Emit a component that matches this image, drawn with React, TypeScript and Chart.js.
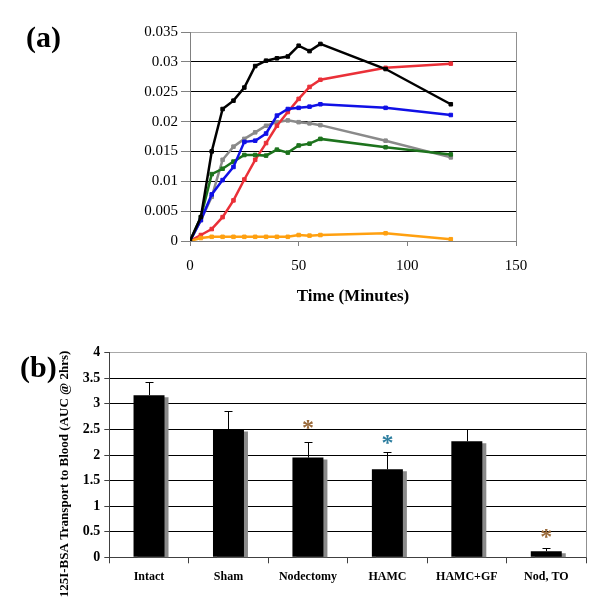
import React, { useEffect, useRef } from 'react';
import { Chart, registerables } from 'chart.js';
Chart.register(...registerables);

const SERIF = "'Liberation Serif', 'Times New Roman', serif";

// ---------- Panel (a) data ----------
const times = [0, 5, 10, 15, 20, 25, 30, 35, 40, 45, 50, 55, 60, 90, 120];
const blackSeries = [0, 0.004, 0.015, 0.0221, 0.0235, 0.0257, 0.0293, 0.0302, 0.0306, 0.0309, 0.0327, 0.0318, 0.033, 0.0288, 0.0229];
const redSeries = [0, 0.001, 0.002, 0.004, 0.0068, 0.0103, 0.0136, 0.0164, 0.0193, 0.0216, 0.0238, 0.0258, 0.027, 0.029, 0.0297];
const blueSeries = [0, 0.0035, 0.0078, 0.0102, 0.0124, 0.0166, 0.0168, 0.018, 0.021, 0.0221, 0.0223, 0.0225, 0.0229, 0.0223, 0.0211];
const graySeries = [0, 0.0035, 0.0074, 0.0136, 0.0158, 0.0171, 0.0182, 0.0193, 0.0199, 0.0202, 0.0199, 0.0197, 0.0194, 0.0168, 0.014];
const greenSeries = [0, 0.004, 0.0112, 0.0121, 0.0133, 0.0144, 0.0144, 0.0143, 0.0153, 0.0148, 0.016, 0.0163, 0.0171, 0.0157, 0.0145];
const orangeSeries = [0, 0.0005, 0.0007, 0.0007, 0.0007, 0.0007, 0.0007, 0.0007, 0.0007, 0.0007, 0.001, 0.0009, 0.001, 0.0013, 0.0003];
const xTitleA = 'Time (Minutes)';

// ---------- Panel (b) data ----------
const groups = ['Intact', 'Sham', 'Nodectomy', 'HAMC', 'HAMC+GF', 'Nod, TO'];
const means = [3.17, 2.5, 1.95, 1.72, 2.27, 0.12];
const errs = [0.26, 0.36, 0.3, 0.33, 0.24, 0.055];
const starLevels: (number | null)[] = [null, null, 2.62, 2.31, null, 0.48];
const starColors = ['#000', '#000', '#9a6a3a', '#2f7fa0', '#000', '#9a6a3a'];
const yTitleB = '125I-BSA Transport to Blood (AUC @ 2hrs)';

const rightFrame = {
  id: 'rightFrame',
  afterDraw(chart: any) {
    const { ctx, chartArea: a } = chart;
    ctx.save();
    ctx.strokeStyle = '#909090';
    ctx.lineWidth = 1;
    const x = Math.round(a.right) + 0.5;
    ctx.beginPath();
    ctx.moveTo(x, a.top);
    ctx.lineTo(x, a.bottom);
    ctx.stroke();
    ctx.restore();
  },
};

function ChartA() {
  const ref = useRef<HTMLCanvasElement>(null);
  useEffect(() => {
    const mk = (data: number[], color: string) => ({
      data: times.map((t, i) => ({ x: t, y: data[i] })),
      borderColor: color,
      backgroundColor: color,
      borderWidth: 2.5,
      pointStyle: 'rect',
      pointRadius: 2.5,
      pointBorderWidth: 1,
      pointBorderColor: color,
      pointBackgroundColor: color,
      tension: 0,
    });
    const chart = new Chart(ref.current!, {
      type: 'line',
      data: {
        datasets: [
          mk(blackSeries, '#000000'),
          mk(orangeSeries, '#ffa010'),
          mk(blueSeries, '#1010e6'),
          mk(greenSeries, '#1d731d'),
          mk(redSeries, '#ea3038'),
          mk(graySeries, '#8a8a8a'),
        ] as any,
      },
      options: {
        responsive: false,
        animation: false,
        layout: { padding: { top: 32, right: 84, left: 0, bottom: 0 } },
        plugins: { legend: { display: false }, tooltip: { enabled: false } },
        scales: {
          x: {
            type: 'linear',
            min: 0,
            max: 150,
            ticks: { stepSize: 50, font: { family: SERIF, size: 15 }, color: '#000', padding: 11, maxRotation: 0 },
            grid: { drawOnChartArea: false, tickLength: 5, color: '#808080' },
            border: { color: '#808080' },
            title: { display: true, text: xTitleA, font: { family: SERIF, size: 17, weight: 'bold' }, color: '#000', padding: { top: 0, bottom: 12.8 } },
            afterFit: (s: any) => { s.height = 79; },
          },
          y: {
            min: 0,
            max: 0.035,
            ticks: {
              stepSize: 0.005,
              font: { family: SERIF, size: 15 },
              color: '#000',
              padding: 3,
              callback: (v: any) => String(+Number(v).toFixed(3)),
            },
            grid: {
              color: (c: any) => (c.tick && c.tick.value > 0.0345 ? '#a8a8a8' : '#000'),
              tickColor: '#808080',
              tickLength: 9,
            },
            border: { color: '#808080' },
            afterFit: (s: any) => { s.width = 190; },
          },
        },
      } as any,
      plugins: [rightFrame],
    });
    return () => chart.destroy();
  }, []);
  return <canvas ref={ref} width={600} height={320} style={{ position: 'absolute', left: 0, top: 0 }} />;
}

function ChartB() {
  const ref = useRef<HTMLCanvasElement>(null);
  useEffect(() => {
    const extras = {
      id: 'extrasB',
      beforeDatasetsDraw(chart: any) {
        const ctx = chart.ctx;
        ctx.save();
        ctx.shadowColor = '#8a8a8a';
        ctx.shadowOffsetX = 4;
        ctx.shadowOffsetY = 2;
        ctx.shadowBlur = 0;
      },
      afterDatasetsDraw(chart: any) {
        const ctx = chart.ctx;
        ctx.restore();
        const meta = chart.getDatasetMeta(0);
        const ys = chart.scales.y;
        ctx.save();
        ctx.strokeStyle = '#000';
        ctx.lineWidth = 1;
        meta.data.forEach((bar: any, i: number) => {
          const x = Math.round(bar.x) + 0.5;
          const yTop = Math.round(ys.getPixelForValue(means[i] + errs[i])) + 0.5;
          const yBar = bar.y;
          ctx.beginPath();
          ctx.moveTo(x, yBar);
          ctx.lineTo(x, yTop);
          ctx.moveTo(x - 4, yTop);
          ctx.lineTo(x + 4, yTop);
          ctx.stroke();
          const s = starLevels[i];
          if (s != null) {
            const size = 24;
            ctx.font = `bold ${size}px ${SERIF}`;
            ctx.fillStyle = starColors[i];
            ctx.textAlign = 'center';
            ctx.textBaseline = 'alphabetic';
            ctx.fillText('*', bar.x, ys.getPixelForValue(s) + 0.47 * size);
          }
        });
        ctx.restore();
      },
      afterDraw(chart: any) {
        const ctx = chart.ctx;
        ctx.save();
        ctx.translate(65, 144);
        ctx.rotate(-Math.PI / 2);
        ctx.font = `bold 13px ${SERIF}`;
        ctx.fillStyle = '#000';
        ctx.textAlign = 'center';
        ctx.textBaseline = 'middle';
        ctx.fillText(yTitleB, 0, 0);
        ctx.restore();
      },
    };
    const chart = new Chart(ref.current!, {
      type: 'bar',
      data: {
        labels: groups,
        datasets: [
          {
            data: means,
            backgroundColor: '#000',
            borderWidth: 0,
            barPercentage: 0.39,
            categoryPercentage: 1,
          },
        ],
      },
      options: {
        responsive: false,
        animation: false,
        layout: { padding: { top: 22.7, right: 14, left: 0, bottom: 0 } },
        plugins: { legend: { display: false }, tooltip: { enabled: false } },
        scales: {
          x: {
            ticks: { font: { family: SERIF, size: 12, weight: 'bold' }, color: '#000', padding: 6.5, maxRotation: 0, autoSkip: false },
            grid: { drawOnChartArea: false, tickLength: 6, color: '#404040', offset: true },
            border: { color: '#404040' },
            afterFit: (s: any) => { s.height = 46.7; },
          },
          y: {
            min: 0,
            max: 4,
            ticks: {
              stepSize: 0.5,
              font: { family: SERIF, size: 14, weight: 'bold' },
              color: '#000',
              padding: 4,
              callback: (v: any) => String(+Number(v).toFixed(1)),
            },
            grid: {
              color: (c: any) => (c.tick && c.tick.value >= 4 ? '#a8a8a8' : '#000'),
              tickColor: '#404040',
              tickLength: 5,
            },
            border: { color: '#404040' },
            afterFit: (s: any) => { s.width = 109.3; },
          },
        },
      } as any,
      plugins: [extras, rightFrame],
    });
    return () => chart.destroy();
  }, []);
  return <canvas ref={ref} width={600} height={274} style={{ position: 'absolute', left: 0, top: 330 }} />;
}

export default function App() {
  const lbl: React.CSSProperties = {
    position: 'absolute',
    fontFamily: SERIF,
    fontWeight: 'bold',
    fontSize: 30,
    lineHeight: '30px',
    color: '#000',
    whiteSpace: 'nowrap',
  };
  return (
    <div style={{ position: 'absolute', left: 0, top: 0, width: 600, height: 604, background: '#fff', overflow: 'hidden' }}>
      <ChartA />
      <ChartB />
      <div style={{ ...lbl, left: 26, top: 22 }}>(a)</div>
      <div style={{ ...lbl, left: 20, top: 352 }}>(b)</div>
    </div>
  );
}
